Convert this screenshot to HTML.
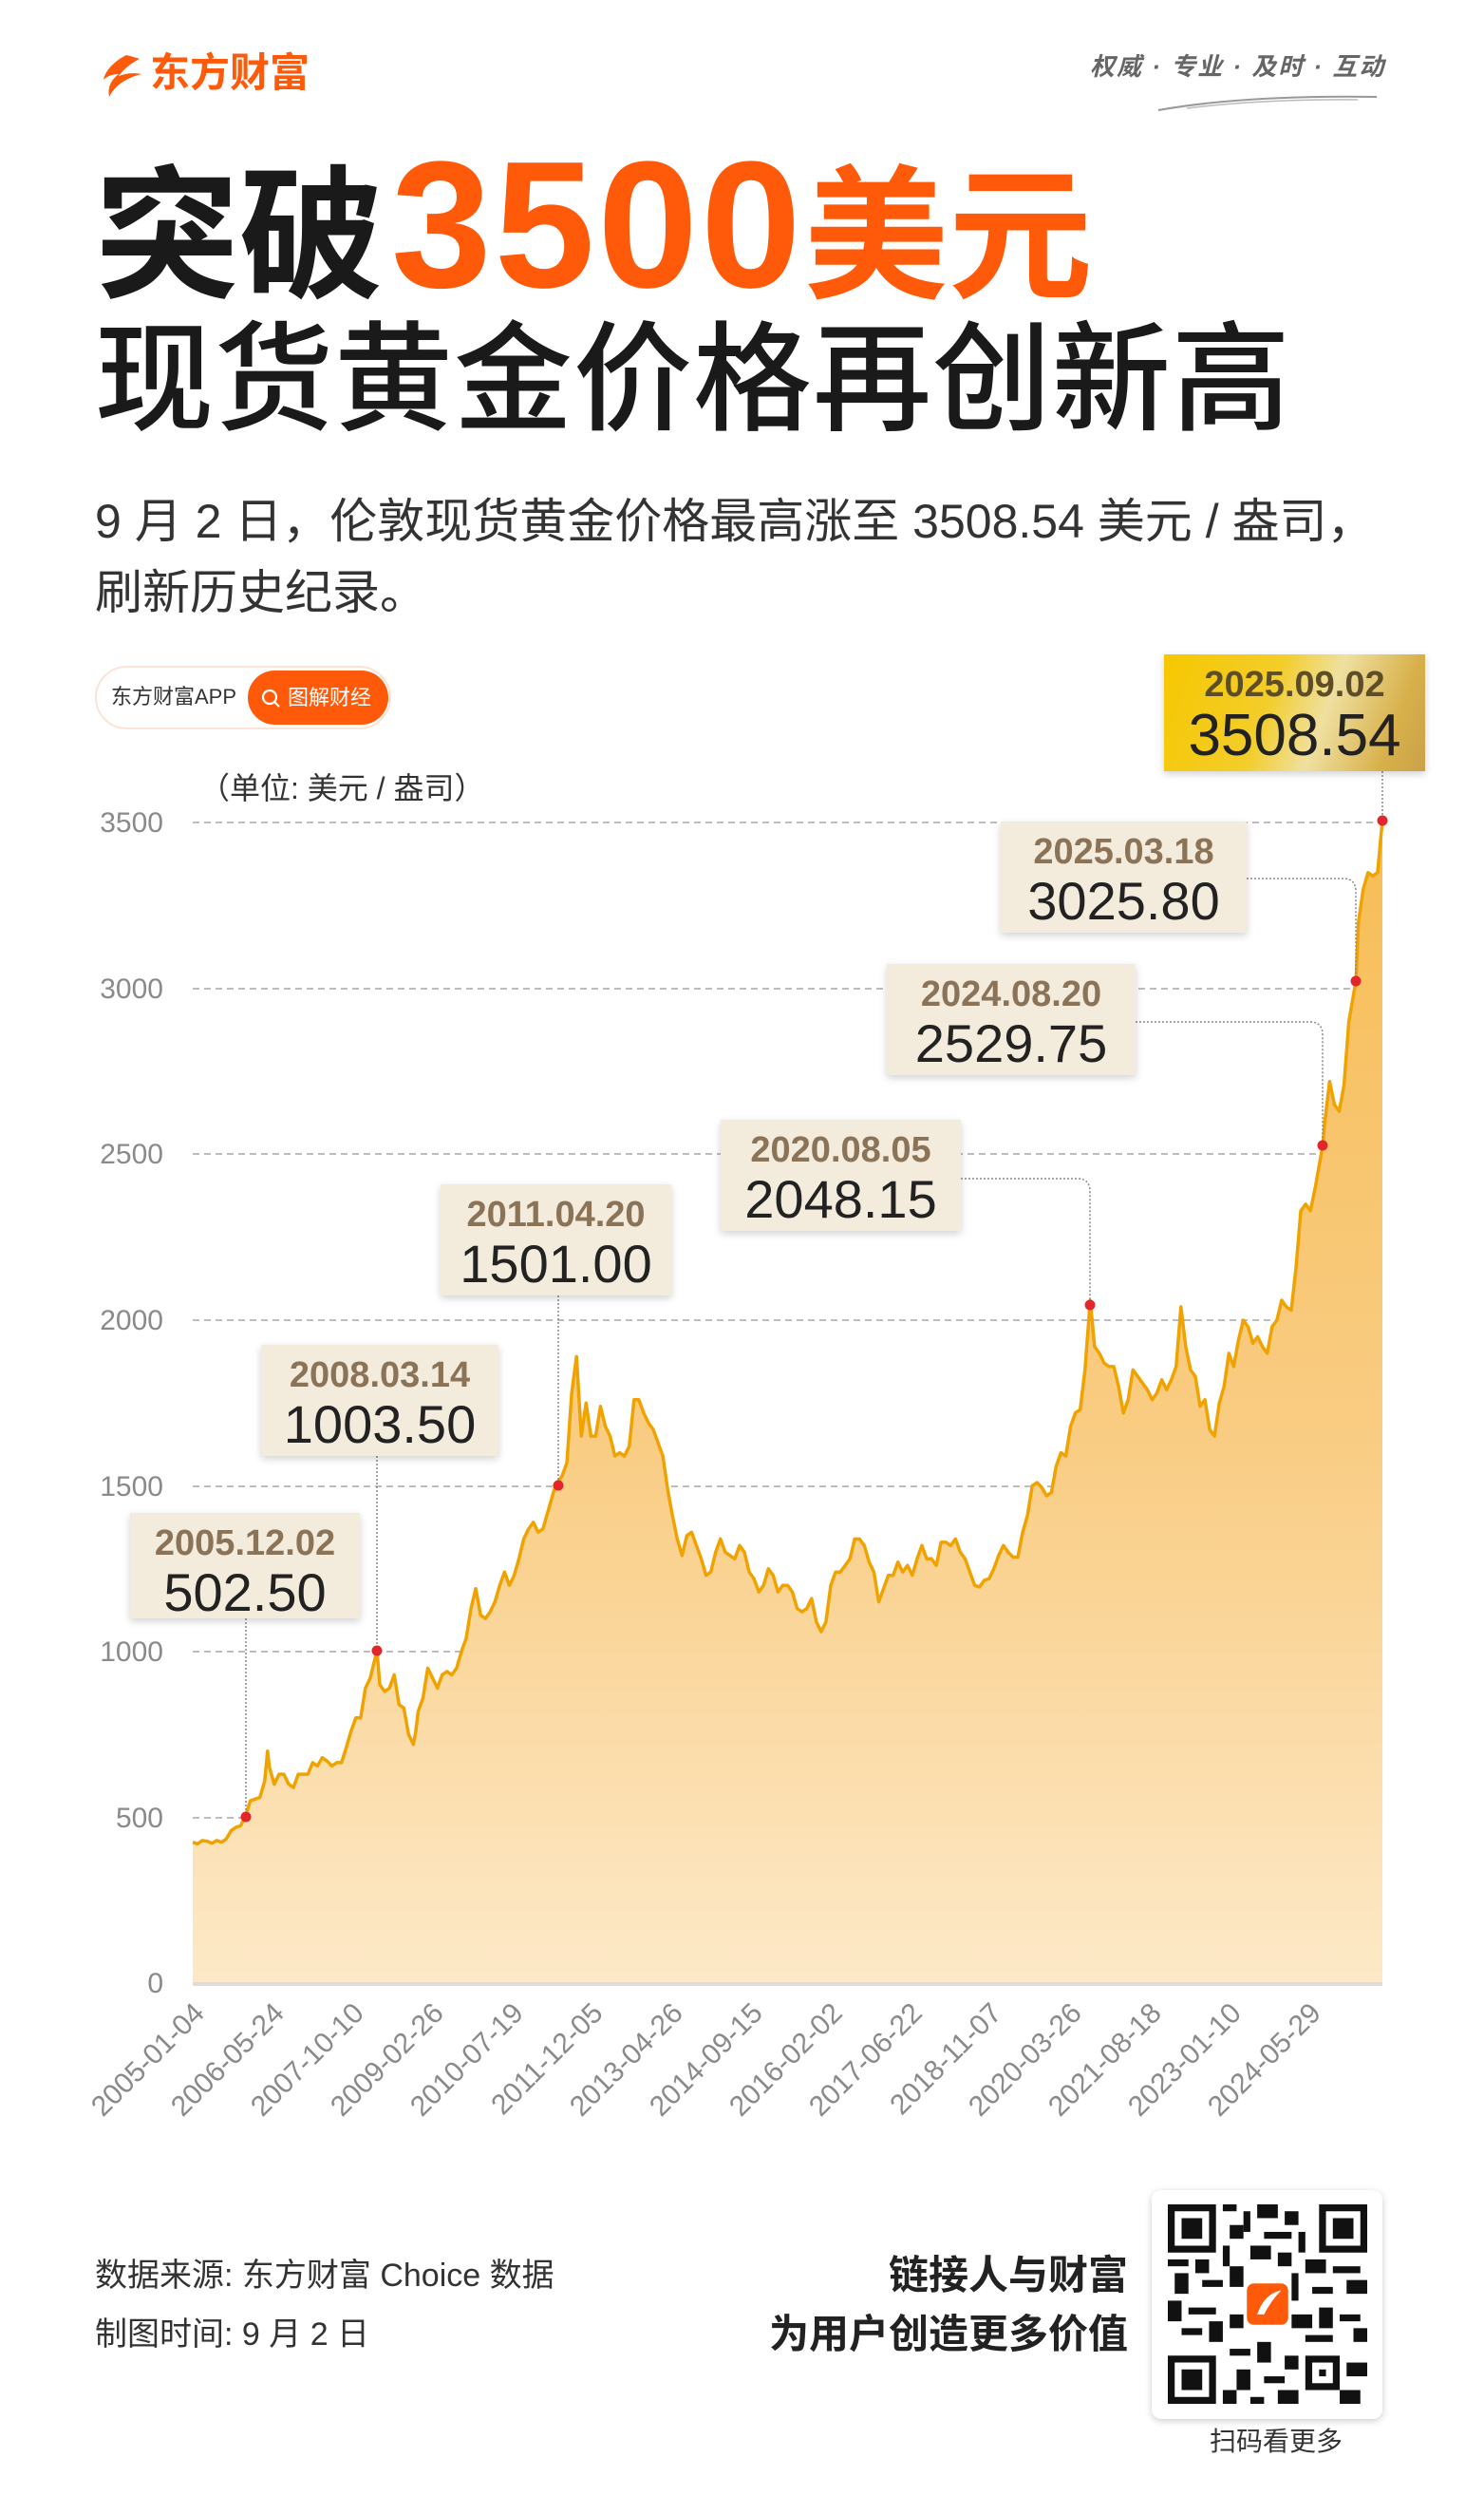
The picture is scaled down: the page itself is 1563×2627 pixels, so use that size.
<!DOCTYPE html>
<html><head><meta charset="utf-8">
<style>
*{margin:0;padding:0;box-sizing:border-box}
body{width:1563px;height:2627px;background:#fff;position:relative;overflow:hidden;font-family:"Liberation Sans","Noto Sans CJK SC",sans-serif;color:#222}
.a{position:absolute;white-space:nowrap}
.box{position:absolute;background:#f3ebdc;box-shadow:0 3px 8px rgba(0,0,0,.18);text-align:center}
.box .d{font-weight:bold;color:#8b7358;font-size:38px;line-height:44px;margin-top:10px}
.box .v{font-size:56px;line-height:60px;color:#222}
.yl{position:absolute;right:1391px;font-size:30px;color:#8a8a8a;line-height:30px}
.xl{position:absolute;font-size:30px;color:#8a8a8a;transform-origin:100% 50%;transform:rotate(-45deg);white-space:nowrap;line-height:30px}
</style></head><body>

<svg class="a" style="left:103px;top:56px" width="50" height="48" viewBox="0 0 50 48">
<path d="M30 2 C18 8 8 18 6 28 C10 24 16 22 22 22 C14 28 10 36 12 46 C18 34 30 26 46 22 C36 20 28 22 22 24 C28 16 36 10 44 6 C38 4 34 3 30 2Z" fill="#ff5a0a"/>
</svg>
<div class="a" style="left:158px;top:52px;font-size:42px;font-weight:bold;color:#ff5a0a;line-height:50px">东方财富</div>
<div class="a" style="left:1148px;top:52px;font-size:26px;color:#666;font-style:italic;font-weight:bold;letter-spacing:2px;line-height:36px">权威 · 专业 · 及时 · 互动</div>
<svg class="a" style="left:1210px;top:92px" width="260" height="30"><path d="M10 24 Q100 8 240 10" stroke="#999" stroke-width="2" fill="none"/><path d="M40 22 Q120 12 220 13" stroke="#bbb" stroke-width="1.5" fill="none"/></svg>

<div class="a" style="left:100px;top:152px;line-height:170px;font-weight:bold;color:#1a1a1a;font-size:152px">突破<span style="color:#ff5a0a;font-family:'Liberation Sans',sans-serif;font-size:190px;letter-spacing:3px;margin-left:8px">3500</span><span style="color:#ff5a0a">美元</span></div>
<div class="a" style="left:100px;top:336px;font-size:125px;line-height:130px;color:#1a1a1a;font-weight:500;letter-spacing:1px">现货黄金价格再创新高</div>
<div class="a" style="left:100px;top:512px;font-size:50px;line-height:75px;color:#333">9 月 2 日，伦敦现货黄金价格最高涨至 3508.54 美元 / 盎司，<br>刷新历史纪录。</div>

<div class="a" style="left:100px;top:701px;width:312px;height:67px;border-radius:34px;border:2px solid #fde3d6;background:#fff"></div>
<div class="a" style="left:117px;top:718px;font-size:22px;color:#333;line-height:32px">东方财富APP</div>
<div class="a" style="left:261px;top:706px;width:148px;height:57px;border-radius:29px;background:#ff5a0a;color:#fff;font-size:22px;line-height:57px;padding-left:42px">图解财经</div>
<svg class="a" style="left:274px;top:724px" width="24" height="24"><circle cx="10" cy="10" r="7" stroke="#fff" stroke-width="2.2" fill="none"/><line x1="15" y1="15" x2="20" y2="20" stroke="#fff" stroke-width="2.2"/></svg>

<div class="a" style="left:210px;top:812px;font-size:32px;color:#333;line-height:36px">（单位: 美元 / 盎司）</div>

<svg class="a" style="left:0;top:0" width="1563" height="2627">
<defs>
<linearGradient id="fg" x1="0" y1="1" x2="0" y2="0">
<stop offset="0" stop-color="#f7bd55"/><stop offset="0.55" stop-color="#f9cd85"/><stop offset="1" stop-color="#fde9c8"/></linearGradient>
</defs>
<g stroke="#bdbdbd" stroke-width="2" stroke-dasharray="7,5">
<line x1="203" x2="1456" y1="866" y2="866"/><line x1="203" x2="1456" y1="1041" y2="1041"/>
<line x1="203" x2="1456" y1="1215" y2="1215"/><line x1="203" x2="1456" y1="1390" y2="1390"/>
<line x1="203" x2="1456" y1="1565" y2="1565"/><line x1="203" x2="1456" y1="1739" y2="1739"/>
<line x1="203" x2="1456" y1="1914" y2="1914"/>
</g>
<g transform="translate(203,2088) scale(5.0524,-0.3490)">
<polygon fill="url(#fg)" points="0,0 0,425 1,420 2,430 3,428 4,422 5,430 6,425 7,435 8,460 9,470 10,475 10.97,502 12,550 13,555 14,560 15,610 15.6,700 16,650 17,600 18,630 19,630 20,600 21,590 22,630 23,630 24,630 25,665 26,655 27,680 28,670 29,655 30,665 31,665 32,710 33,760 34,800 35,800 36,890 37,920 38.4,1003 39,900 40,880 41,890 42,930 43,840 44,830 45,750 46,720 46.5,760 47,820 48,860 49,950 50,920 51,890 52,930 53,940 54,930 55,950 56,1000 57,1040 58,1130 59,1190 60,1110 61,1100 62,1120 63,1150 64,1200 65,1240 66,1200 67,1230 68,1280 69,1340 70,1370 71,1390 72,1360 73,1370 74,1420 75.6,1501 76,1510 77,1530 78,1570 79,1780 80,1890 81,1650 82,1750 83,1650 84,1650 85,1740 86,1680 87,1650 88,1590 89,1600 90,1590 91,1620 92,1760 93,1760 94,1720 95,1690 96,1670 97,1630 98,1590 99,1490 100,1410 101,1340 102,1290 103,1350 104,1360 105,1320 106,1280 107,1230 108,1240 109,1300 110,1340 111,1300 112,1290 113,1280 114,1320 115,1300 116,1240 117,1220 118,1180 119,1200 120,1250 121,1230 122,1180 123,1200 124,1200 125,1180 126,1130 127,1120 128,1130 129,1160 130,1090 131,1060 132,1090 133,1200 134,1240 135,1240 136,1260 137,1280 138,1340 139,1340 140,1320 141,1270 142,1240 143,1150 144,1190 145,1230 146,1230 147,1270 148,1240 149,1260 150,1230 151,1280 152,1320 153,1280 154,1280 155,1260 156,1330 157,1330 158,1320 159,1340 160,1300 161,1280 162,1240 163,1200 164,1195 165,1215 166,1220 167,1250 168,1290 169,1320 170,1300 171,1285 172,1285 173,1360 174,1410 175,1500 176,1510 177,1495 178,1470 179,1480 180,1560 181,1600 182,1590 183,1680 184,1720 185,1730 186,1850 187.1,2060 188,1920 189,1900 190,1870 191,1860 192,1860 193,1800 194,1720 195,1760 196,1850 197,1830 198,1810 199,1790 200,1760 201,1780 202,1820 203,1790 204,1820 205,1860 206,2040 207,1920 208,1850 209,1830 210,1740 211,1760 212,1670 213,1650 214,1750 215,1800 216,1900 217,1860 218,1940 219,2000 220,1980 221,1930 222,1950 223,1920 224,1900 225,1980 226,2000 227,2060 228,2040 229,2030 230,2160 231,2330 232,2350 233,2330 234,2400 235.6,2530 236,2600 237,2720 238,2650 239,2630 240,2710 241,2900 242.5,3026 243,3200 244,3300 245,3350 246,3340 247,3350 248,3508 248,0"/>
<polyline fill="none" stroke="#f0a300" stroke-width="3.5" vector-effect="non-scaling-stroke" stroke-linejoin="round" points="0,425 1,420 2,430 3,428 4,422 5,430 6,425 7,435 8,460 9,470 10,475 10.97,502 12,550 13,555 14,560 15,610 15.6,700 16,650 17,600 18,630 19,630 20,600 21,590 22,630 23,630 24,630 25,665 26,655 27,680 28,670 29,655 30,665 31,665 32,710 33,760 34,800 35,800 36,890 37,920 38.4,1003 39,900 40,880 41,890 42,930 43,840 44,830 45,750 46,720 46.5,760 47,820 48,860 49,950 50,920 51,890 52,930 53,940 54,930 55,950 56,1000 57,1040 58,1130 59,1190 60,1110 61,1100 62,1120 63,1150 64,1200 65,1240 66,1200 67,1230 68,1280 69,1340 70,1370 71,1390 72,1360 73,1370 74,1420 75.6,1501 76,1510 77,1530 78,1570 79,1780 80,1890 81,1650 82,1750 83,1650 84,1650 85,1740 86,1680 87,1650 88,1590 89,1600 90,1590 91,1620 92,1760 93,1760 94,1720 95,1690 96,1670 97,1630 98,1590 99,1490 100,1410 101,1340 102,1290 103,1350 104,1360 105,1320 106,1280 107,1230 108,1240 109,1300 110,1340 111,1300 112,1290 113,1280 114,1320 115,1300 116,1240 117,1220 118,1180 119,1200 120,1250 121,1230 122,1180 123,1200 124,1200 125,1180 126,1130 127,1120 128,1130 129,1160 130,1090 131,1060 132,1090 133,1200 134,1240 135,1240 136,1260 137,1280 138,1340 139,1340 140,1320 141,1270 142,1240 143,1150 144,1190 145,1230 146,1230 147,1270 148,1240 149,1260 150,1230 151,1280 152,1320 153,1280 154,1280 155,1260 156,1330 157,1330 158,1320 159,1340 160,1300 161,1280 162,1240 163,1200 164,1195 165,1215 166,1220 167,1250 168,1290 169,1320 170,1300 171,1285 172,1285 173,1360 174,1410 175,1500 176,1510 177,1495 178,1470 179,1480 180,1560 181,1600 182,1590 183,1680 184,1720 185,1730 186,1850 187.1,2060 188,1920 189,1900 190,1870 191,1860 192,1860 193,1800 194,1720 195,1760 196,1850 197,1830 198,1810 199,1790 200,1760 201,1780 202,1820 203,1790 204,1820 205,1860 206,2040 207,1920 208,1850 209,1830 210,1740 211,1760 212,1670 213,1650 214,1750 215,1800 216,1900 217,1860 218,1940 219,2000 220,1980 221,1930 222,1950 223,1920 224,1900 225,1980 226,2000 227,2060 228,2040 229,2030 230,2160 231,2330 232,2350 233,2330 234,2400 235.6,2530 236,2600 237,2720 238,2650 239,2630 240,2710 241,2900 242.5,3026 243,3200 244,3300 245,3350 246,3340 247,3350 248,3508"/>
</g>
<line x1="203" x2="1456" y1="2089" y2="2089" stroke="#ddd" stroke-width="4"/>
<g stroke="#888" stroke-width="1.5" stroke-dasharray="2,2" fill="none">
<line x1="259" y1="1704" x2="259" y2="1913"/>
<line x1="397" y1="1533" x2="397" y2="1738"/>
<line x1="588" y1="1364" x2="588" y2="1564"/>
<path d="M1012 1241 H1135 Q1148 1241 1148 1255 V1374"/>
<path d="M1196 1076 H1380 Q1393 1076 1393 1090 V1206"/>
<path d="M1313 925 H1415 Q1428 925 1428 939 V1033"/>
<line x1="1456" y1="812" x2="1456" y2="864"/>
</g>
<g fill="#e3262b">
<circle cx="259" cy="1913" r="5.5"/><circle cx="397" cy="1738" r="5.5"/><circle cx="588" cy="1564" r="5.5"/>
<circle cx="1148" cy="1374" r="5.5"/><circle cx="1393" cy="1206" r="5.5"/><circle cx="1428" cy="1033" r="5.5"/><circle cx="1456" cy="864" r="5.5"/>
</g>
</svg>

<div class="yl" style="top:852px">3500</div>
<div class="yl" style="top:1027px">3000</div>
<div class="yl" style="top:1201px">2500</div>
<div class="yl" style="top:1376px">2000</div>
<div class="yl" style="top:1551px">1500</div>
<div class="yl" style="top:1725px">1000</div>
<div class="yl" style="top:1900px">500</div>
<div class="yl" style="top:2074px">0</div>

<div class="xl" style="right:1353px;top:2100px">2005-01-04</div>
<div class="xl" style="right:1269px;top:2100px">2006-05-24</div>
<div class="xl" style="right:1185px;top:2100px">2007-10-10</div>
<div class="xl" style="right:1101px;top:2100px">2009-02-26</div>
<div class="xl" style="right:1017px;top:2100px">2010-07-19</div>
<div class="xl" style="right:933px;top:2100px">2011-12-05</div>
<div class="xl" style="right:849px;top:2100px">2013-04-26</div>
<div class="xl" style="right:765px;top:2100px">2014-09-15</div>
<div class="xl" style="right:681px;top:2100px">2016-02-02</div>
<div class="xl" style="right:597px;top:2100px">2017-06-22</div>
<div class="xl" style="right:513px;top:2100px">2018-11-07</div>
<div class="xl" style="right:429px;top:2100px">2020-03-26</div>
<div class="xl" style="right:345px;top:2100px">2021-08-18</div>
<div class="xl" style="right:261px;top:2100px">2023-01-10</div>
<div class="xl" style="right:177px;top:2100px">2024-05-29</div>

<div class="box" style="left:137px;top:1593px;width:242px;height:111px"><div class="d">2005.12.02</div><div class="v">502.50</div></div>
<div class="box" style="left:275px;top:1416px;width:250px;height:117px"><div class="d">2008.03.14</div><div class="v">1003.50</div></div>
<div class="box" style="left:464px;top:1247px;width:243px;height:117px"><div class="d">2011.04.20</div><div class="v">1501.00</div></div>
<div class="box" style="left:759px;top:1179px;width:253px;height:117px"><div class="d">2020.08.05</div><div class="v">2048.15</div></div>
<div class="box" style="left:934px;top:1015px;width:262px;height:117px"><div class="d">2024.08.20</div><div class="v">2529.75</div></div>
<div class="box" style="left:1054px;top:865px;width:259px;height:117px"><div class="d">2025.03.18</div><div class="v">3025.80</div></div>
<div class="box" style="left:1226px;top:689px;width:275px;height:123px;background:linear-gradient(110deg,#f6c700 0%,#f3cd2a 40%,#efe0a0 60%,#d8b04a 85%,#c9a24a 100%)"><div class="d" style="color:#5e4e28;margin-top:10px">2025.09.02</div><div class="v" style="font-size:62px;line-height:64px">3508.54</div></div>

<div class="a" style="left:100px;top:2376px;font-size:34px;color:#333;line-height:40px">数据来源: 东方财富 Choice 数据</div>
<div class="a" style="left:100px;top:2438px;font-size:34px;color:#333;line-height:40px">制图时间: 9 月 2 日</div>
<div class="a" style="right:375px;top:2371px;font-size:42px;font-weight:bold;color:#222;line-height:50px;text-align:right">链接人与财富</div>
<div class="a" style="right:375px;top:2433px;font-size:42px;font-weight:bold;color:#222;line-height:50px;text-align:right">为用户创造更多价值</div>

<div class="a" style="left:1213px;top:2306px;width:243px;height:241px;background:#fff;border-radius:10px;box-shadow:0 2px 8px rgba(0,0,0,.2)"></div>
<svg class="a" style="left:1230px;top:2321px" width="210" height="210" viewBox="0 0 29 29">
<g fill="#111">
<path d="M0 0h7v7h-7zM1 1v5h5v-5zM2 2h3v3h-3z" fill-rule="evenodd"/>
<path d="M22 0h7v7h-7zM23 1v5h5v-5zM24 2h3v3h-3z" fill-rule="evenodd"/>
<path d="M0 22h7v7h-7zM1 23v5h5v-5zM2 24h3v3h-3z" fill-rule="evenodd"/>
<rect x="8" y="0" width="2" height="1"/><rect x="11" y="1" width="1" height="3"/><rect x="13" y="0" width="3" height="2"/><rect x="17" y="1" width="2" height="2"/><rect x="9" y="3" width="2" height="2"/><rect x="14" y="4" width="4" height="1"/><rect x="19" y="4" width="1" height="3"/><rect x="8" y="6" width="1" height="3"/><rect x="12" y="6" width="3" height="2"/><rect x="16" y="7" width="2" height="2"/>
<rect x="0" y="8" width="3" height="1"/><rect x="4" y="8" width="2" height="2"/><rect x="1" y="10" width="2" height="3"/><rect x="5" y="11" width="3" height="1"/><rect x="9" y="9" width="2" height="3"/><rect x="20" y="8" width="3" height="2"/><rect x="24" y="9" width="4" height="1"/><rect x="26" y="11" width="3" height="2"/><rect x="21" y="12" width="3" height="1"/><rect x="18" y="10" width="1" height="4"/>
<rect x="0" y="14" width="2" height="3"/><rect x="3" y="15" width="4" height="1"/><rect x="6" y="17" width="2" height="3"/><rect x="2" y="18" width="3" height="1"/><rect x="9" y="16" width="2" height="2"/><rect x="18" y="16" width="3" height="2"/><rect x="22" y="15" width="2" height="3"/><rect x="25" y="16" width="3" height="1"/><rect x="27" y="18" width="2" height="2"/><rect x="20" y="19" width="4" height="1"/>
<rect x="9" y="21" width="3" height="1"/><rect x="13" y="20" width="2" height="3"/><rect x="10" y="24" width="2" height="3"/><rect x="14" y="25" width="3" height="1"/><rect x="17" y="22" width="2" height="2"/><rect x="20" y="22" width="5" height="5"/><rect x="26" y="23" width="3" height="2"/><rect x="25" y="27" width="3" height="2"/><rect x="8" y="27" width="2" height="2"/><rect x="16" y="27" width="3" height="2"/><rect x="12" y="28" width="2" height="1"/>
</g>
<rect x="21" y="23" width="3" height="3" fill="#fff"/><rect x="22" y="24" width="1" height="1" fill="#111"/>
<rect x="11.5" y="11.5" width="6" height="6" rx="1" fill="#ff5a0a"/>
<path d="M13 16 Q14 13 16.5 12.5 Q15 14 14 16z" fill="#fff"/>
</svg>
<div class="a" style="left:1274px;top:2555px;font-size:28px;color:#333;line-height:32px">扫码看更多</div>

</body></html>
